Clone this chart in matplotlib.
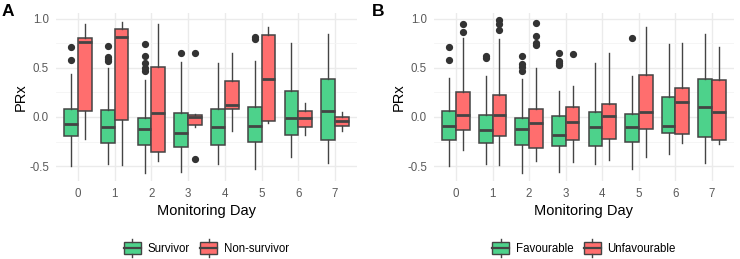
import matplotlib
matplotlib.use("Agg")
import matplotlib.pyplot as plt
from matplotlib.patches import Rectangle
from matplotlib.lines import Line2D
from matplotlib.legend_handler import HandlerBase

plt.rcParams['font.family'] = ['Liberation Sans', 'DejaVu Sans']

days = [0, 1, 2, 3, 4, 5, 6, 7]

# ---- Panel A : Survivor / Non-survivor ----
a_labels = ["Survivor", "Non-survivor"]
a_surv_med = [-0.075, -0.098, -0.125, -0.16, -0.105, -0.088, -0.014, 0.058]
a_surv_q1 = [-0.197, -0.268, -0.29, -0.305, -0.288, -0.25, -0.18, -0.237]
a_surv_q3 = [0.08, 0.068, -0.01, 0.04, 0.078, 0.098, 0.26, 0.39]
a_surv_lo = [-0.5, -0.48, -0.57, -0.56, -0.48, -0.53, -0.41, -0.47]
a_surv_hi = [0.44, 0.50, 0.38, 0.56, 0.545, 0.566, 0.75, 0.847]
a_surv_out = [[0.71, 0.58], [0.72, 0.61, 0.59, 0.57], [0.74, 0.62, 0.55, 0.50, 0.47],
              [0.65], [], [0.81, 0.79], [], []]
a_ns_med = [0.766, 0.81, 0.037, -0.003, 0.12, 0.386, -0.014, -0.044]
a_ns_q1 = [0.064, -0.03, -0.36, -0.085, 0.081, -0.04, -0.10, -0.095]
a_ns_q3 = [0.807, 0.895, 0.51, 0.024, 0.363, 0.834, 0.064, 0.003]
a_ns_lo = [-0.227, -0.49, -0.45, -0.10, -0.14, -0.058, -0.18, -0.14]
a_ns_hi = [0.946, 0.966, 0.946, 0.03, 0.654, 0.918, 0.14, 0.047]
a_ns_out = [[], [], [], [0.65, -0.43], [], [], [], []]

# ---- Panel B : Favourable / Unfavourable ----
b_labels = ["Favourable", "Unfavourable"]
b_fav_med = [-0.088, -0.136, -0.125, -0.18, -0.105, -0.098, -0.088, 0.105]
b_fav_q1 = [-0.237, -0.268, -0.288, -0.298, -0.30, -0.258, -0.166, -0.20]
b_fav_q3 = [0.064, 0.024, -0.014, 0.014, 0.05, 0.034, 0.20, 0.386]
b_fav_lo = [-0.5, -0.48, -0.57, -0.56, -0.48, -0.53, -0.373, -0.47]
b_fav_hi = [0.40, 0.417, 0.386, 0.268, 0.545, 0.417, 0.742, 0.847]
b_fav_out = [[0.71, 0.58], [0.62, 0.60], [0.62, 0.535, 0.51, 0.47],
             [0.65, 0.57, 0.55, 0.53], [], [0.797], [], []]
b_unf_med = [0.017, 0.02, -0.058, -0.05, 0.01, 0.05, 0.15, 0.054]
b_unf_q1 = [-0.136, -0.197, -0.315, -0.23, -0.227, -0.122, -0.176, -0.234]
b_unf_q3 = [0.258, 0.227, 0.085, 0.10, 0.13, 0.427, 0.295, 0.376]
b_unf_lo = [-0.34, -0.49, -0.45, -0.457, -0.44, -0.41, -0.26, -0.275]
b_unf_hi = [0.80, 0.79, 0.50, 0.315, 0.654, 0.918, 0.75, 0.715]
b_unf_out = [[0.946, 0.858], [0.98, 0.946, 0.885], [0.95, 0.82, 0.75, 0.73],
             [0.644], [], [], [], []]

GREEN = '#4DD28B'
RED = '#FF6E6E'
EDGE = '#444444'
FLIER = '#333333'

W, H = 740, 259
fig = plt.figure(figsize=(W / 100, H / 100), dpi=100)


def make_stats(med, q1, q3, lo, hi, out):
    return [dict(med=m, q1=a, q3=b, whislo=l, whishi=h, fliers=o)
            for m, a, b, l, h, o in zip(med, q1, q3, lo, hi, out)]


def draw_panel(ax, s1, s2, color1, color2):
    off = 0.1875
    wid = 0.375
    for stats, col, sgn in ((s1, color1, -1), (s2, color2, 1)):
        pos = [d + sgn * off for d in days]
        ax.bxp(stats, positions=pos, widths=wid, patch_artist=True,
               showcaps=False,
               boxprops=dict(facecolor=col, edgecolor=EDGE, linewidth=1.1),
               medianprops=dict(color=EDGE, linewidth=2.0),
               whiskerprops=dict(color=EDGE, linewidth=1.0),
               flierprops=dict(marker='o', markerfacecolor=FLIER,
                               markeredgecolor=FLIER, markersize=4.2),
               zorder=3)
    ax.set_xlim(-0.6, 7.6)
    ax.set_ylim(-0.65, 1.06)
    ax.set_xticks(days)
    ax.set_xticklabels([str(d) for d in days])
    ax.set_yticks([-0.5, 0.0, 0.5, 1.0])
    ax.set_yticklabels(['-0.5', '0.0', '0.5', '1.0'])
    ax.set_yticks([-0.25, 0.25, 0.75], minor=True)
    ax.grid(True, which='major', color='#EBEBEB', linewidth=1.0, zorder=0)
    ax.grid(True, which='minor', axis='y', color='#F4F4F4', linewidth=0.6, zorder=0)
    ax.set_axisbelow(True)
    for sp in ax.spines.values():
        sp.set_visible(False)
    ax.tick_params(which='both', length=0, labelsize=8.3, labelcolor='#5A5A5A', pad=5)
    ax.set_xlabel('Monitoring Day', fontsize=10.5, labelpad=3)
    ax.set_ylabel('PRx', fontsize=10.5, labelpad=1)


class BoxHandler(HandlerBase):
    def __init__(self, color):
        super().__init__()
        self.color = color

    def create_artists(self, legend, orig_handle, xdescent, ydescent, width, height, fontsize, trans):
        w = width
        x0 = -xdescent
        y0 = -ydescent - height * 0.1
        h = height * 1.2
        rect = Rectangle((x0, y0), w, h, facecolor=self.color, edgecolor=EDGE,
                         linewidth=1.0, transform=trans)
        med = Line2D([x0, x0 + w], [y0 + h / 2, y0 + h / 2], color=EDGE, linewidth=1.6, transform=trans)
        xc = x0 + w / 2
        top = Line2D([xc, xc], [y0 + h, y0 + h + height * 0.25], color=EDGE, linewidth=1.0, transform=trans)
        bot = Line2D([xc, xc], [y0, y0 - height * 0.25], color=EDGE, linewidth=1.0, transform=trans)
        return [rect, med, top, bot]


def add_legend(ax, labels):
    h1 = Rectangle((0, 0), 1, 1)
    h2 = Rectangle((0, 0), 1, 1)
    ax.legend([h1, h2], labels, loc='center', bbox_to_anchor=(0.5, -0.405),
              ncol=2, frameon=False, fontsize=8.3, handlelength=1.45, handleheight=1.0,
              handletextpad=0.6, columnspacing=0.9,
              handler_map={h1: BoxHandler(GREEN), h2: BoxHandler(RED)})


def axes_rect(x0, x1, y_top, y_bot):
    return [x0 / W, 1 - y_bot / H, (x1 - x0) / W, (y_bot - y_top) / H]


axA = fig.add_axes(axes_rect(56, 357, 12.6, 180.9))
axB = fig.add_axes(axes_rect(434, 734, 12.6, 180.9))

draw_panel(axA,
           make_stats(a_surv_med, a_surv_q1, a_surv_q3, a_surv_lo, a_surv_hi, a_surv_out),
           make_stats(a_ns_med, a_ns_q1, a_ns_q3, a_ns_lo, a_ns_hi, a_ns_out),
           GREEN, RED)
draw_panel(axB,
           make_stats(b_fav_med, b_fav_q1, b_fav_q3, b_fav_lo, b_fav_hi, b_fav_out),
           make_stats(b_unf_med, b_unf_q1, b_unf_q3, b_unf_lo, b_unf_hi, b_unf_out),
           GREEN, RED)
add_legend(axA, a_labels)
add_legend(axB, b_labels)

fig.text(2 / W, 1 - 4 / H, 'A', fontsize=12.5, fontweight='bold', va='top', ha='left')
fig.text(372 / W, 1 - 4 / H, 'B', fontsize=12.5, fontweight='bold', va='top', ha='left')

fig.savefig('out.png', dpi=100, facecolor='white')
